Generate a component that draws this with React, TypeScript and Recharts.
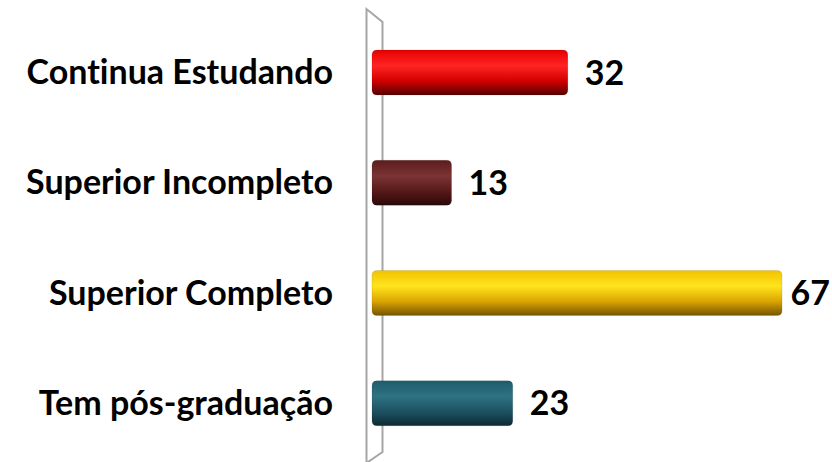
import React from 'react';
import { BarChart, Bar, XAxis, YAxis, Cell, LabelList } from 'recharts';

const CATEGORIES = ['Continua Estudando', 'Superior Incompleto', 'Superior Completo', 'Tem pós-graduação'];
const VALUES = [32, 13, 67, 23];
const GRADIENT_IDS = ['gRed', 'gMaroon', 'gYellow', 'gTeal'];

const FONT = 'Lato, "DejaVu Sans", sans-serif';
const CHART_W = 832;

const data = CATEGORIES.map((name, i) => ({ name, value: VALUES[i], grad: GRADIENT_IDS[i] }));

// cylinder-ish bar: rounded ends + vertical shading
const CylinderBar = (props: any) => {
  const { x, y, width, height, fill } = props;
  const r = 5;
  const d = `M${x + r},${y} H${x + width - r} Q${x + width},${y} ${x + width},${y + r} V${y + height - r} Q${x + width},${y + height} ${x + width - r},${y + height} H${x + r} Q${x},${y + height} ${x},${y + height - r} V${y + r} Q${x},${y} ${x + r},${y} Z`;
  return <path d={d} fill={fill} stroke="rgba(0,0,0,0.12)" strokeWidth={0.8} />;
};

const CategoryTick = (props: any) => {
  const { y, payload } = props;
  return (
    <text x={333} y={y} dy={12} textAnchor="end" fontFamily={FONT} fontWeight={700} fontSize={34} fill="#000" style={{ fontVariantLigatures: 'none' }}>
      {payload.value}
    </text>
  );
};

// value label; pushed back inside the canvas when it would run off the right edge
const ValueLabel = (props: any) => {
  const { x, y, width, height, value } = props;
  let tx = x + width + 17;
  let anchor: 'start' | 'end' = 'start';
  if (tx + 42 > CHART_W) {
    tx = CHART_W - 2;
    anchor = 'end';
  }
  return (
    <text x={tx} y={y + height / 2} dy={12} textAnchor={anchor} fontFamily={FONT} fontWeight={700} fontSize={34} fill="#000">
      {value}
    </text>
  );
};

function Wall() {
  return (
    <svg width={832} height={462} style={{ position: 'absolute', left: 0, top: 0 }}>
      <path d="M366.5,463 V9 L382.5,22 V452 L366.5,463" fill="none" stroke="#a6a6a6" strokeWidth={2} />
    </svg>
  );
}

export default function App() {
  return (
    <div style={{ position: 'absolute', left: 0, top: 0, width: 832, height: 462, background: '#fff' }}>
      <Wall />
      <div style={{ position: 'absolute', left: 0, top: 0 }}>
        <BarChart width={CHART_W} height={462} data={data} layout="vertical" margin={{ top: 17, right: 1, bottom: 4, left: 0 }}>
          <defs>
            <linearGradient id="gRed" x1="0" y1="0" x2="0" y2="1">
              <stop offset="0%" stopColor="#e60000" />
              <stop offset="35%" stopColor="#ff2424" />
              <stop offset="68%" stopColor="#d40000" />
              <stop offset="100%" stopColor="#580000" />
            </linearGradient>
            <linearGradient id="gMaroon" x1="0" y1="0" x2="0" y2="1">
              <stop offset="0%" stopColor="#5c1c1c" />
              <stop offset="35%" stopColor="#7c3434" />
              <stop offset="70%" stopColor="#561818" />
              <stop offset="100%" stopColor="#2a0808" />
            </linearGradient>
            <linearGradient id="gYellow" x1="0" y1="0" x2="0" y2="1">
              <stop offset="0%" stopColor="#f2c200" />
              <stop offset="35%" stopColor="#ffe41e" />
              <stop offset="68%" stopColor="#dca600" />
              <stop offset="100%" stopColor="#765400" />
            </linearGradient>
            <linearGradient id="gTeal" x1="0" y1="0" x2="0" y2="1">
              <stop offset="0%" stopColor="#1f5c6c" />
              <stop offset="35%" stopColor="#2f7282" />
              <stop offset="70%" stopColor="#1c5060" />
              <stop offset="100%" stopColor="#0d2a34" />
            </linearGradient>
          </defs>
          <XAxis type="number" domain={[0, 75]} hide />
          <YAxis type="category" dataKey="name" width={372} axisLine={false} tickLine={false} tick={<CategoryTick />} />
          <Bar dataKey="value" barSize={45} shape={<CylinderBar />} isAnimationActive={false}>
            {data.map((d) => (
              <Cell key={d.name} fill={`url(#${d.grad})`} />
            ))}
            <LabelList dataKey="value" content={<ValueLabel />} />
          </Bar>
        </BarChart>
      </div>
    </div>
  );
}
